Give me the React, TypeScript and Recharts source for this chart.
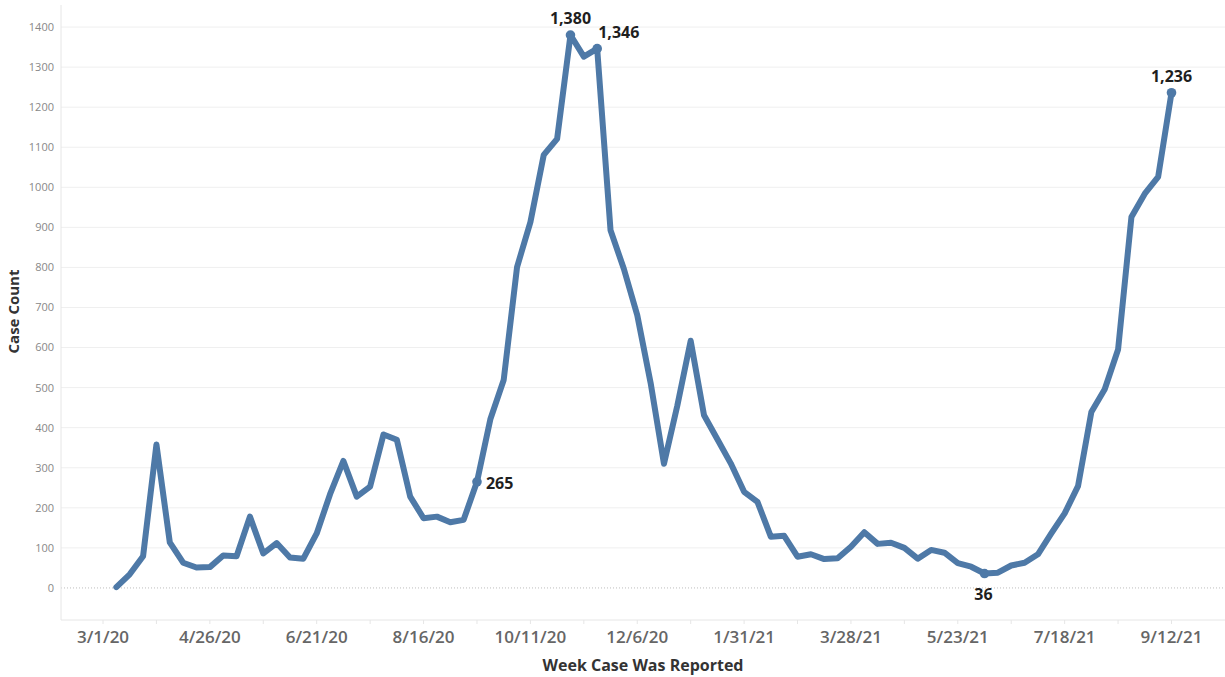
import React from 'react';
import { LineChart, Line, XAxis, YAxis, CartesianGrid, ReferenceLine } from 'recharts';

// Weekly case counts, week of report
const weeks = [
  '3/1/20', '3/8/20', '3/15/20', '3/22/20', '3/29/20', '4/5/20', '4/12/20', '4/19/20',
  '4/26/20', '5/3/20', '5/10/20', '5/17/20', '5/24/20', '5/31/20', '6/7/20', '6/14/20',
  '6/21/20', '6/28/20', '7/5/20', '7/12/20', '7/19/20', '7/26/20', '8/2/20', '8/9/20',
  '8/16/20', '8/23/20', '8/30/20', '9/6/20', '9/13/20', '9/20/20', '9/27/20', '10/4/20',
  '10/11/20', '10/18/20', '10/25/20', '11/1/20', '11/8/20', '11/15/20', '11/22/20', '11/29/20',
  '12/6/20', '12/13/20', '12/20/20', '12/27/20', '1/3/21', '1/10/21', '1/17/21', '1/24/21',
  '1/31/21', '2/7/21', '2/14/21', '2/21/21', '2/28/21', '3/7/21', '3/14/21', '3/21/21',
  '3/28/21', '4/4/21', '4/11/21', '4/18/21', '4/25/21', '5/2/21', '5/9/21', '5/16/21',
  '5/23/21', '5/30/21', '6/6/21', '6/13/21', '6/20/21', '6/27/21', '7/4/21', '7/11/21',
  '7/18/21', '7/25/21', '8/1/21', '8/8/21', '8/15/21', '8/22/21', '8/29/21', '9/5/21',
  '9/12/21',
];

const caseCounts: (number | null)[] = [
  null, 2, 34, 79, 358, 114, 63, 51,
  52, 81, 79, 178, 86, 112, 76, 73,
  136, 234, 317, 228, 253, 383, 370, 228,
  174, 178, 164, 170, 265, 421, 519, 801,
  913, 1081, 1121, 1380, 1326, 1346, 893, 796,
  681, 512, 310, 455, 617, 431, 371, 311,
  240, 215, 128, 130, 78, 84, 72, 74,
  103, 139, 110, 113, 100, 73, 95, 88,
  62, 53, 36, 38, 56, 63, 84, 136,
  186, 254, 439, 496, 595, 926, 984, 1026,
  1236,
];

const tickLabels = [
  '3/1/20', '4/26/20', '6/21/20', '8/16/20', '10/11/20', '12/6/20',
  '1/31/21', '3/28/21', '5/23/21', '7/18/21', '9/12/21',
];

const yTicks = [0, 100, 200, 300, 400, 500, 600, 700, 800, 900, 1000, 1100, 1200, 1300, 1400];

// labelled points and where their text sits
const annotatedWeeks = ['9/13/20', '11/1/20', '11/15/20', '6/6/21', '9/12/21'];
const annotationPlacement = ['right', 'top', 'topRight', 'bottom', 'top'];

const data = weeks.map((week, i) => ({ week, cases: caseCounts[i] }));

const minorTicks = weeks.filter((_, i) => i % 4 === 0);

const LINE_COLOR = '#4e79a7';
const FONT = '"Open Sans", "Noto Sans", sans-serif';

const renderDot = (props: any) => {
  const { cx, cy, payload, index } = props;
  const k = annotatedWeeks.indexOf(payload.week);
  if (k < 0 || cx == null || cy == null) return <g key={`d${index}`} />;
  const place = annotationPlacement[k];
  let tx = cx;
  let ty = cy - 11;
  let anchor: 'start' | 'middle' = 'middle';
  if (place === 'right') { tx = cx + 9; ty = cy + 7; anchor = 'start'; }
  if (place === 'topRight') { tx = cx + 1; ty = cy - 11; anchor = 'start'; }
  if (place === 'bottom') { tx = cx - 1; ty = cy + 26; }
  return (
    <g key={`d${index}`}>
      <circle cx={cx} cy={cy} r={4.8} fill={LINE_COLOR} />
      <text
        x={tx}
        y={ty}
        textAnchor={anchor}
        fontFamily={FONT}
        fontSize={16}
        fontWeight={700}
        fill="#1f1f1f"
      >
        {Number(payload.cases).toLocaleString('en-US')}
      </text>
    </g>
  );
};

const YTitle = (props: any) => {
  const { viewBox } = props;
  const cx = 13;
  const cy = viewBox.y + viewBox.height / 2 - 1;
  return (
    <text
      x={cx}
      y={cy}
      transform={`rotate(-90, ${cx}, ${cy})`}
      textAnchor="middle"
      dominantBaseline="central"
      fontFamily={FONT}
      fontSize={15}
      fontWeight={700}
      fill="#333"
    >
      Case Count
    </text>
  );
};

const XTitle = (props: any) => {
  const { viewBox } = props;
  const cx = viewBox.x + viewBox.width / 2;
  return (
    <text
      x={cx}
      y={671}
      textAnchor="middle"
      fontFamily={FONT}
      fontSize={16}
      fontWeight={700}
      fill="#333"
    >
      Week Case Was Reported
    </text>
  );
};

export default function App() {
  return (
    <div style={{ position: 'absolute', left: 0, top: 0, width: 1225, height: 677, background: '#fff' }}>
      <LineChart
        width={1225}
        height={677}
        data={data}
        margin={{ top: 5, right: 0, bottom: 0, left: 0 }}
      >
        <CartesianGrid
          vertical={false}
          stroke="#efefef"
          horizontalValues={yTicks.filter(t => t > 0)}
        />
        <XAxis
          dataKey="week"
          type="category"
          height={57}
          padding={{ left: 42, right: 53.5 }}
          ticks={minorTicks}
          interval={0}
          tickFormatter={(w: string) => (tickLabels.includes(w) ? w : '')}
          axisLine={{ stroke: '#e6e6e6' }}
          tickLine={{ stroke: '#e6e6e6' }}
          tickSize={4}
          tickMargin={7}
          tick={{ fill: '#666', fontSize: 17, fontWeight: 600, fontFamily: FONT }}
          label={{ content: XTitle }}
        />
        <YAxis
          type="number"
          width={61}
          domain={[-80, 1455]}
          ticks={yTicks}
          interval={0}
          axisLine={{ stroke: '#e6e6e6' }}
          tickLine={false}
          tickSize={0}
          tickMargin={7}
          tick={{ fill: '#888', fontSize: 11, fontFamily: FONT }}
          label={{ content: YTitle }}
        />
        <ReferenceLine y={0} stroke="#bdbdbd" strokeDasharray="1 2" />
        <Line
          type="linear"
          dataKey="cases"
          stroke={LINE_COLOR}
          strokeWidth={6}
          strokeLinejoin="round"
          strokeLinecap="round"
          dot={renderDot}
          activeDot={false}
          isAnimationActive={false}
        />
      </LineChart>
    </div>
  );
}
